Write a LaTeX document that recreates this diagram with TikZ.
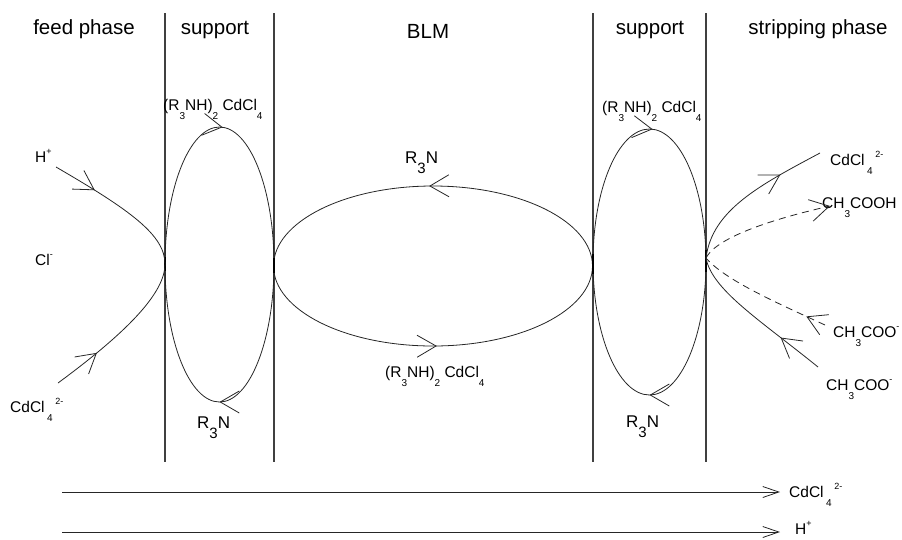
\documentclass[tikz,border=0pt]{standalone}
\usepackage{fontspec}
\setmainfont{Liberation Sans}
\usetikzlibrary{arrows.meta,decorations.markings}
\newcommand{\sbx}[1]{\raisebox{-0.62em}{\fontsize{10}{10}\selectfont #1}}
\newcommand{\sbX}[1]{\raisebox{-0.6em}{\fontsize{15}{15}\selectfont #1}}
\newcommand{\spx}[1]{\raisebox{0.5em}{\fontsize{9}{9}\selectfont #1}}
\tikzset{
  vbar/.tip={Straight Barb[length=19pt,width=22pt,line width=0.8pt]},
  btip/.tip={Straight Barb[length=16pt,width=11pt,line width=0.8pt]},
  sep/.style={line width=1.1pt, draw=black!75},
  flow/.style={line width=0.8pt, draw=black!85},
  dflow/.style={flow, dash pattern=on 7pt off 5pt},
  markfwd/.style={postaction={decorate}, decoration={markings, mark=at position #1 with {\arrow{vbar}}}},
  fwdtwo/.style 2 args={postaction={decorate}, decoration={markings, mark=at position #1 with {\arrow{vbar}}, mark=at position #2 with {\arrow{vbar}}}},
  revtwo/.style 2 args={postaction={decorate}, decoration={markings, mark=at position #1 with {\arrowreversed{vbar}}, mark=at position #2 with {\arrowreversed{vbar}}}},
  hdr/.style={font=\fontsize{20.5}{24}\selectfont, inner sep=0pt, anchor=base},
  lab/.style={font=\fontsize{15.5}{18}\selectfont, inner sep=0pt, anchor=base west},
  big/.style={font=\fontsize{17}{20}\selectfont, inner sep=0pt, anchor=base west},
  touch/.style={line width=2.2pt, draw=black},
}
\begin{document}
\begin{tikzpicture}[x=1pt,y=-1pt]
\useasboundingbox (0,0) rectangle (902,539);
% headers
\node[hdr] (hfeed) at (84,34) {feed phase};
\node[hdr] (hsup1) at (215,34) {support};
\node[hdr] (hblm) at (428,38) {BLM};
\node[hdr] (hsup2) at (650,34) {support};
\node[hdr] (hstrip) at (818,34) {stripping phase};
% separators
\draw[sep] (165,13) -- (165,462);
\draw[sep] (274,13) -- (274,462);
\draw[sep] (593,13) -- (593,462);
\draw[sep] (706,13) -- (706,462);
% ellipses
\coordinate (c1) at (219.5,264.5);
\coordinate (c2) at (433,266);
\coordinate (c3) at (649.5,262);
\draw[flow, fwdtwo={0.25}{0.755}] (c1) ellipse [x radius=54.5, y radius=137.5];
\draw[flow, revtwo={0.245}{0.745}] (c2) ellipse [x radius=159.5, y radius=80];
\draw[flow, fwdtwo={0.25}{0.755}] (c3) ellipse [x radius=56.5, y radius=133];
% touch marks
\draw[touch] (165,257) -- (165,271);
\draw[touch] (274,258) -- (274,273);
\draw[touch] (593,254) -- (593,274);
\draw[touch] (706,250) -- (706,272);
% labels
\node[lab] (tl) at (163,110) {(R\sbx{3}NH)\sbx{2} CdCl\sbx{4}};
\node[lab] (tr) at (602,112) {(R\sbx{3}NH)\sbx{2} CdCl\sbx{4}};
\node[lab] (mb) at (385,377) {(R\sbx{3}NH)\sbx{2} CdCl\sbx{4}};
\node[big] (rm) at (405,163) {R\sbX{3}N};
\node[big] (rl) at (197,428) {R\sbX{3}N};
\node[big] (rr) at (626,427) {R\sbX{3}N};
\node[lab] (hplus) at (35,162) {H\spx{+}};
\node[lab] (cl) at (35,265) {Cl\spx{-}};
\node[lab] (cdl) at (10,412) {CdCl\,\sbx{4}\,\spx{2-}};
\node[lab] (cdr) at (830,165) {CdCl\,\sbx{4}\,\spx{2-}};
\node[lab] (ach) at (822,208) {CH\sbx{3}COOH};
\node[lab] (ac1) at (833,337) {CH\sbx{3}COO\spx{-}};
\node[lab] (ac2) at (826,390) {CH\sbx{3}COO\spx{-}};
\node[lab] (bcd) at (789,497) {CdCl\,\sbx{4}\,\spx{2-}};
\node[lab] (bh) at (795,534) {H\spx{+}};
% curve end points
\coordinate (hp) at (56,167);
\coordinate (cd) at (58,383);
\coordinate (vL) at (165,264);
\coordinate (O) at (706,258);
\coordinate (e1) at (820,153);
\coordinate (e2) at (830,206);
\coordinate (e3) at (825,325);
\coordinate (e4) at (818,367);
% feed side
\draw[flow, markfwd=0.3] (hp) .. controls (130,210) and (165,235) .. (vL);
\draw[flow, markfwd=0.3] (cd) .. controls (130,330) and (165,292) .. (vL);
% stripping side
\draw[flow, markfwd=0.72] (O) .. controls (712,210) and (760,185) .. (e1);
\draw[dflow, -{vbar}] (O) .. controls (715,240) and (760,222) .. (e2);
\draw[dflow, markfwd=0.15] (e3) .. controls (775,302) and (725,280) .. (O);
\draw[flow, markfwd=0.3] (e4) .. controls (760,320) and (712,290) .. (O);
% bottom arrows
\coordinate (b1s) at (62,492);
\coordinate (b1e) at (780,492);
\coordinate (b2s) at (62,532);
\coordinate (b2e) at (780,532);
\draw[flow, -{btip}] (b1s) -- (b1e);
\draw[flow, -{btip}] (b2s) -- (b2e);
\end{tikzpicture}
\end{document}
